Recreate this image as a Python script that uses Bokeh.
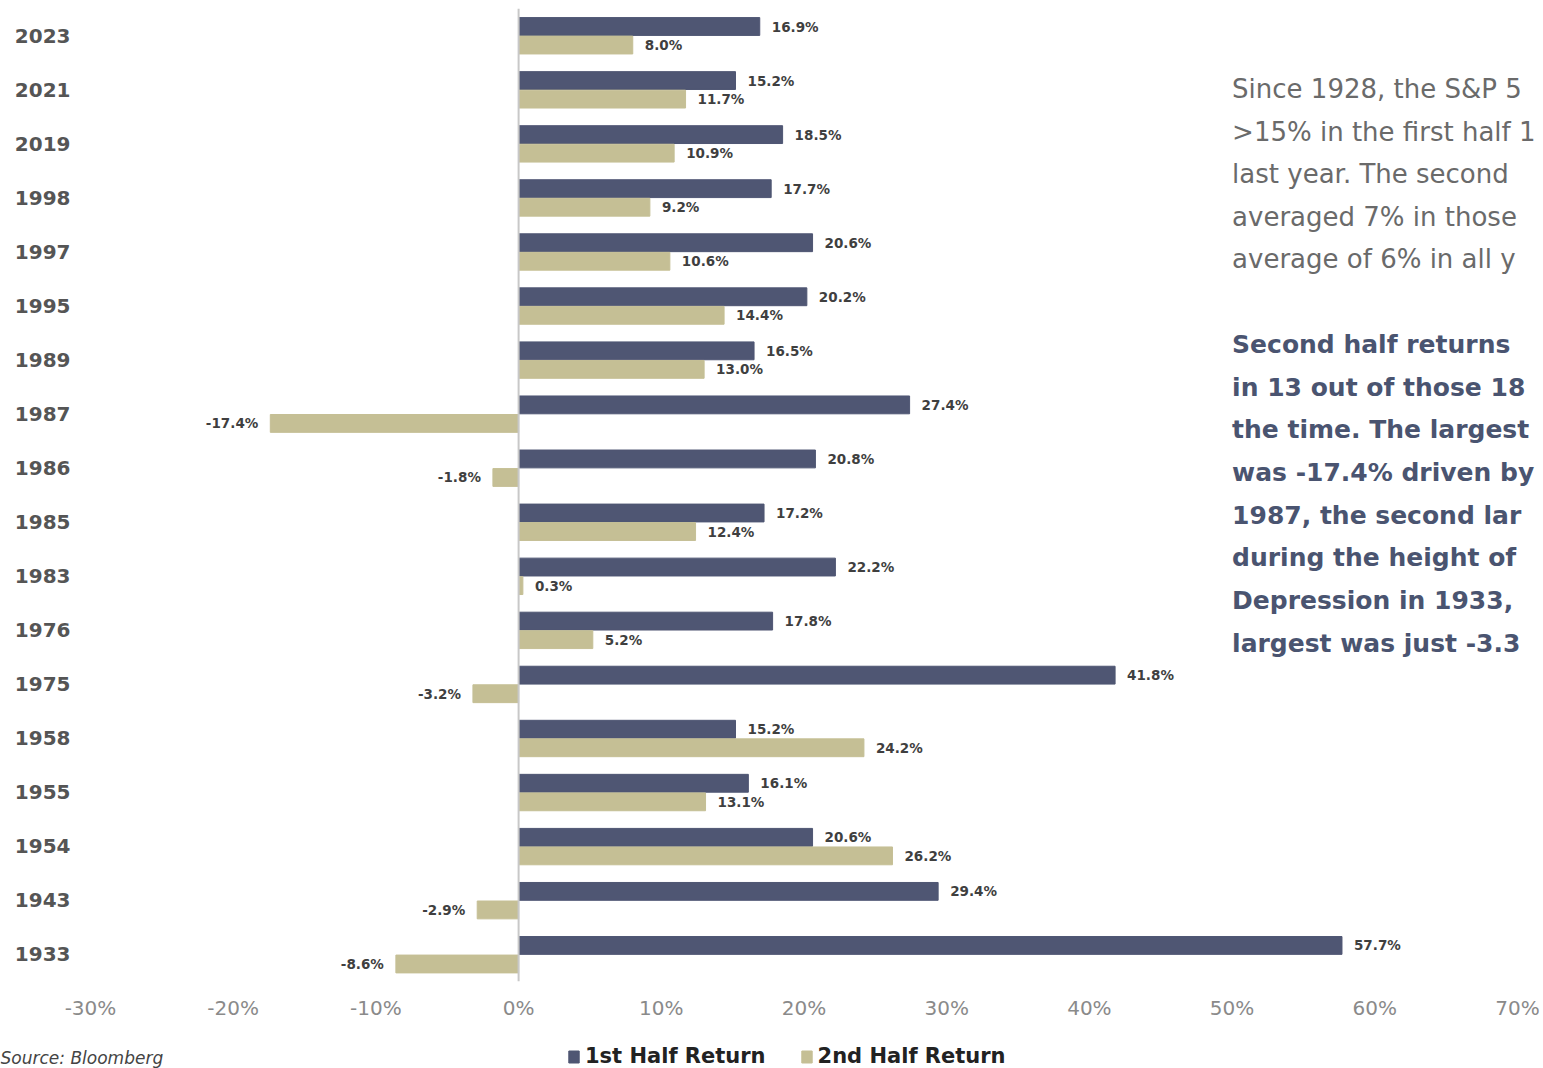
from bokeh.plotting import figure
from bokeh.layouts import column, row
from bokeh.models import (ColumnDataSource, FactorRange, Range1d, Span, Label,
                          Legend, LegendItem, FixedTicker)
from bokeh.transform import dodge
from bokeh.embed import file_html
from bokeh.resources import INLINE
from bokeh.core.properties import value

# ---------------- data ----------------
years = ["2023", "2021", "2019", "1998", "1997", "1995", "1989", "1987", "1986",
         "1985", "1983", "1976", "1975", "1958", "1955", "1954", "1943", "1933"]
first_half = [16.9, 15.2, 18.5, 17.7, 20.6, 20.2, 16.5, 27.4, 20.8,
              17.2, 22.2, 17.8, 41.8, 15.2, 16.1, 20.6, 29.4, 57.7]
second_half = [8.0, 11.7, 10.9, 9.2, 10.6, 14.4, 13.0, -17.4, -1.8,
               12.4, 0.3, 5.2, -3.2, 24.2, 13.1, 26.2, -2.9, -8.6]
x_ticks = [-30, -20, -10, 0, 10, 20, 30, 40, 50, 60, 70]
x_tick_labels = ["-30%", "-20%", "-10%", "0%", "10%", "20%", "30%", "40%", "50%", "60%", "70%"]
series_names = ["1st Half Return", "2nd Half Return"]

# visible part of the commentary panel (it is cut at the right edge of the slide)
note_lines = ["Since 1928, the S&P 5",
              ">15% in the first half 1",
              "last year. The second",
              "averaged 7% in those",
              "average of 6% in all y"]
note_bold_lines = ["Second half returns",
                   "in 13 out of those 18",
                   "the time. The largest",
                   "was -17.4% driven by",
                   "1987, the second lar",
                   "during the height of",
                   "Depression in 1933,",
                   "largest was just -3.3"]
source_text = "Source: Bloomberg"

# ---------------- style ----------------
NAVY = "#4F5673"
TAN = "#C5BF95"
FONT = "DejaVu Sans"
W, H_MAIN, H_FOOT = 1543, 1025, 43

def fmt(v):
    return f"{v:.1f}%"

src = ColumnDataSource(dict(year=years, first=first_half, second=second_half))

def label_source(vals, sign):
    ys, xs, ts = [], [], []
    for y, v in zip(years, vals):
        if (v >= 0) == (sign > 0):
            ys.append(y); xs.append(v); ts.append(fmt(v))
    return ColumnDataSource(dict(year=ys, x=xs, t=ts))

px_per_unit = 14.27
p = figure(width=W, height=H_MAIN,
           y_range=FactorRange(*years[::-1]),
           x_range=Range1d(-30, 70 + 26 / px_per_unit),
           output_backend="svg", toolbar_location=None,
           min_border_left=90, min_border_right=0, min_border_top=8,
           min_border_bottom=44)
p.outline_line_color = None
p.xgrid.visible = False
p.ygrid.visible = False
p.background_fill_color = "white"

OFF1, OFF2 = 0.167, -0.176
r1 = p.hbar(y=dodge("year", OFF1, range=p.y_range), right="first", left=0,
            height=0.33, color=NAVY, source=src)
r2 = p.hbar(y=dodge("year", OFF2, range=p.y_range), right="second", left=0,
            height=0.33, color=TAN, source=src)

zero = Span(location=0, dimension="height", line_color="#C8C8C8", line_width=2)
p.add_layout(zero)

lab_style = dict(text_font=value(FONT), text_font_style="bold",
                 text_font_size="13.5px", text_color="#3F3F3F",
                 text_baseline="middle")
for vals, off in ((first_half, OFF1), (second_half, OFF2)):
    pos = label_source(vals, 1)
    neg = label_source(vals, -1)
    p.text(x="x", y=dodge("year", off, range=p.y_range), text="t", source=pos,
           x_offset=12, text_align="left", **lab_style)
    p.text(x="x", y=dodge("year", off, range=p.y_range), text="t", source=neg,
           x_offset=-12, text_align="right", **lab_style)

# axes
p.xaxis.ticker = FixedTicker(ticks=x_ticks)
p.xaxis.major_label_overrides = {t: l for t, l in zip(x_ticks, x_tick_labels)}
p.xaxis.axis_line_color = None
p.xaxis.major_tick_line_color = None
p.xaxis.minor_tick_line_color = None
p.xaxis.major_tick_out = 0
p.xaxis.major_label_standoff = 14
p.xaxis.major_label_text_font = FONT
p.xaxis.major_label_text_font_size = "20px"
p.xaxis.major_label_text_color = "#8A8A8A"

p.yaxis.axis_line_color = None
p.yaxis.major_tick_line_color = None
p.yaxis.minor_tick_line_color = None
p.yaxis.major_tick_out = 0
p.yaxis.major_label_standoff = 20
p.yaxis.major_label_text_font = FONT
p.yaxis.major_label_text_font_style = "bold"
p.yaxis.major_label_text_font_size = "20px"
p.yaxis.major_label_text_color = "#555555"

# commentary on the right (data coords: y = 18 at frame top, 54.06 px per row)
row_px = 54.06
frame_top = 8
def ypix(pix):
    return 18 - (pix - frame_top) / row_px

for i, line in enumerate(note_lines):
    p.add_layout(Label(x=50, y=ypix(89 + i * 42.5), text=line,
                       text_font=FONT, text_font_size="26px",
                       text_color="#6A6A6A", text_baseline="middle"))
for i, line in enumerate(note_bold_lines):
    p.add_layout(Label(x=50, y=ypix(344 + i * 42.7), text=line,
                       text_font=FONT, text_font_style="bold",
                       text_font_size="25px",
                       text_color="#4A5470", text_baseline="middle"))

# ---------------- footer: legend + source ----------------
foot = figure(width=W, height=H_FOOT, x_range=Range1d(0, W), y_range=Range1d(0, H_FOOT),
              output_backend="svg", toolbar_location=None,
              x_axis_location=None, y_axis_location=None,
              min_border=0, min_border_left=0, min_border_right=0,
              min_border_top=0, min_border_bottom=0)
foot.grid.visible = False
foot.outline_line_color = None
# legend swatch proxies (kept outside the visible footer range)
swatch = ColumnDataSource(dict(y=[-50], r=[1]))
g1 = foot.hbar(y="y", right="r", left=0, height=1, color=NAVY, source=swatch)
g2 = foot.hbar(y="y", right="r", left=0, height=1, color=TAN, source=swatch)

legend = Legend(items=[LegendItem(label=series_names[0], renderers=[g1]),
                       LegendItem(label=series_names[1], renderers=[g2])],
                orientation="horizontal", location=(567, 0),
                border_line_color=None, background_fill_alpha=0,
                label_text_font=FONT, label_text_font_style="bold",
                label_text_font_size="21px", label_text_color="#222222",
                glyph_width=13, glyph_height=15, label_standoff=5,
                spacing=34, padding=0, margin=0)
foot.add_layout(legend)

foot.add_layout(Label(x=0, y=1, text=source_text,
                      text_font=FONT, text_font_style="italic",
                      text_font_size="17px", text_color="#444444",
                      text_baseline="bottom"))

layout = column(p, row(foot), spacing=0)
open("out.html", "w").write(file_html(layout, INLINE))
